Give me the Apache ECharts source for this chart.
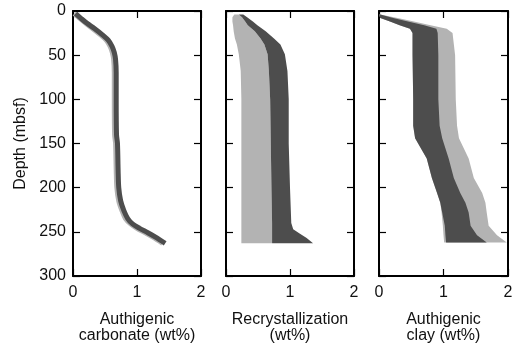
<!DOCTYPE html>
<html>
<head>
<meta charset="utf-8">
<script src="https://cdn.jsdelivr.net/npm/echarts@6/dist/echarts.min.js"></script>
<style>
html,body{margin:0;padding:0;background:#fff;}
#c{width:516px;height:349px;}
</style>
</head>
<body>
<div id="c"></div>
<script>
// ---------- data ----------
const depthTicks = [0, 50, 100, 150, 200, 250, 300];
const xTicks = [0, 1, 2];
const panelNames = ['Authigenic\ncarbonate (wt%)', 'Recrystallization\n(wt%)', 'Authigenic\nclay (wt%)'];
const yAxisName = 'Depth (mbsf)';

// Panel 1: authigenic carbonate
const carbDepth = [3, 8, 14, 20, 27, 33, 40, 47, 55, 70, 100, 140, 150, 180, 200, 215, 226, 235, 241, 246, 251, 256, 263];
const carbDark  = [0.04, 0.12, 0.22, 0.34, 0.46, 0.55, 0.61, 0.645, 0.665, 0.675, 0.675, 0.68, 0.695, 0.705, 0.715, 0.745, 0.795, 0.855, 0.93, 1.04, 1.17, 1.29, 1.44];
const carbLight = [0.02, 0.10, 0.20, 0.31, 0.43, 0.52, 0.58, 0.615, 0.635, 0.645, 0.645, 0.65, 0.665, 0.675, 0.685, 0.715, 0.765, 0.82, 0.9, 1.0, 1.13, 1.25, 1.40];

// Panel 2: recrystallization
const recDepth    = [4, 7, 12, 16, 23, 31, 38, 49, 68, 100, 150, 200, 240, 247, 252, 257, 263];
const recLightL   = [0.13, 0.10, 0.10, 0.11, 0.12, 0.14, 0.17, 0.20, 0.23, 0.24, 0.24, 0.24, 0.24, 0.24, 0.24, 0.24, 0.24];
const recBoundary = [0.20, 0.25, 0.30, 0.34, 0.45, 0.54, 0.60, 0.65, 0.67, 0.69, 0.70, 0.71, 0.72, 0.72, 0.72, 0.72, 0.72];
const recDarkR    = [0.27, 0.33, 0.42, 0.49, 0.62, 0.75, 0.85, 0.92, 0.96, 0.98, 0.98, 1.00, 1.02, 1.05, 1.15, 1.26, 1.36];

// Panel 3: authigenic clay
const clayDepth    = [4, 8, 12, 16, 20, 25, 50, 100, 130, 144, 167, 189, 206, 217, 228, 243, 254, 262];
const clayDarkL    = [0.00, 0.02, 0.17, 0.32, 0.48, 0.52, 0.52, 0.53, 0.53, 0.56, 0.74, 0.82, 0.90, 0.95, 0.98, 1.02, 1.03, 1.04];
const clayLightL   = [0.00, 0.02, 0.17, 0.32, 0.48, 0.52, 0.52, 0.53, 0.53, 0.56, 0.74, 0.82, 0.90, 0.95, 0.97, 0.99, 1.00, 1.01];
const clayBoundary = [0.02, 0.22, 0.45, 0.70, 0.89, 0.91, 0.92, 0.92, 0.94, 0.98, 1.08, 1.16, 1.26, 1.34, 1.39, 1.42, 1.52, 1.67];
const clayLightR   = [0.02, 0.29, 0.54, 0.80, 1.05, 1.14, 1.18, 1.19, 1.21, 1.24, 1.39, 1.47, 1.60, 1.65, 1.67, 1.70, 1.83, 1.98];

// ---------- styling ----------
const DARK = '#4d4d4d';
const LIGHT = '#b3b3b3';
const TXT = '#111111';
const FONT = 'Liberation Sans, Arial, Helvetica, sans-serif';

const grids = [
  {left: 73, top: 11, width: 128, height: 268},
  {left: 226, top: 11, width: 128, height: 268},
  {left: 379, top: 11, width: 129, height: 268}
];

function band(depth, left, right) {
  const pts = [];
  for (let i = 0; i < depth.length; i++) pts.push([left[i], depth[i]]);
  for (let i = depth.length - 1; i >= 0; i--) pts.push([right[i], depth[i]]);
  return pts;
}
function bandSeries(g, pts, color) {
  return {
    type: 'custom', xAxisIndex: g * 2, yAxisIndex: g * 2, silent: true, animation: false,
    data: pts,
    renderItem: function (params, api) {
      if (params.dataIndex !== 0) return null;
      const points = pts.map(p => api.coord(p));
      return {type: 'polygon', shape: {points: points}, style: {fill: color, stroke: null}};
    }
  };
}
function lineSeries(g, depth, xs, color, w) {
  return {
    type: 'line', xAxisIndex: g * 2, yAxisIndex: g * 2, silent: true, animation: false,
    symbol: 'none', smooth: 0.3,
    data: depth.map((d, i) => [xs[i], d]),
    lineStyle: {color: color, width: w}
  };
}

const xAxes = [], yAxes = [];
grids.forEach((gr, g) => {
  const common = {
    type: 'value', gridIndex: g, min: 0, max: 2, interval: 1,
    splitLine: {show: false},
    axisLine: {show: true, onZero: false, lineStyle: {color: '#000', width: 2}},
    axisTick: {show: true, inside: true, length: 7, lineStyle: {color: '#000', width: 1.2}}
  };
  xAxes.push(Object.assign({}, common, {
    position: 'bottom',
    axisLabel: {show: true, color: TXT, fontSize: 16, fontFamily: FONT, margin: 9,
      formatter: v => xTicks.indexOf(v) >= 0 ? String(v) : ''},
    name: panelNames[g], nameLocation: 'middle', nameGap: 36,
    nameTextStyle: {color: TXT, fontSize: 16, fontFamily: FONT, lineHeight: 16}
  }));
  xAxes.push(Object.assign({}, common, {position: 'top', axisLabel: {show: false}}));
  const ycommon = {
    type: 'value', gridIndex: g, min: 0, max: 300, interval: 50, inverse: true,
    splitLine: {show: false},
    axisLine: {show: true, onZero: false, lineStyle: {color: '#000', width: 2}},
    axisTick: {show: true, inside: true, length: 7, lineStyle: {color: '#000', width: 1.2}}
  };
  yAxes.push(Object.assign({}, ycommon, {
    position: 'left',
    axisLabel: {show: g === 0, color: TXT, fontSize: 16, fontFamily: FONT, margin: 7,
      formatter: v => depthTicks.indexOf(v) >= 0 ? String(v) : ''},
    name: g === 0 ? yAxisName : '', nameLocation: 'middle', nameGap: 44, nameRotate: 90,
    nameTextStyle: {color: TXT, fontSize: 16, fontFamily: FONT}
  }));
  yAxes.push(Object.assign({}, ycommon, {position: 'right', axisLabel: {show: false}}));
});

const series = [
  lineSeries(0, carbDepth, carbLight, LIGHT, 5),
  lineSeries(0, carbDepth, carbDark, DARK, 5),
  bandSeries(1, band(recDepth, recLightL, recBoundary), LIGHT),
  bandSeries(1, band(recDepth, recBoundary, recDarkR), DARK),
  bandSeries(2, band(clayDepth, clayLightL, clayLightR), LIGHT),
  bandSeries(2, band(clayDepth, clayDarkL, clayBoundary), DARK)
];

const chart = echarts.init(document.getElementById('c'), null, {renderer: 'canvas'});
chart.setOption({
  backgroundColor: '#fff',
  animation: false,
  grid: grids,
  xAxis: xAxes,
  yAxis: yAxes,
  series: series
});
</script>
</body>
</html>
